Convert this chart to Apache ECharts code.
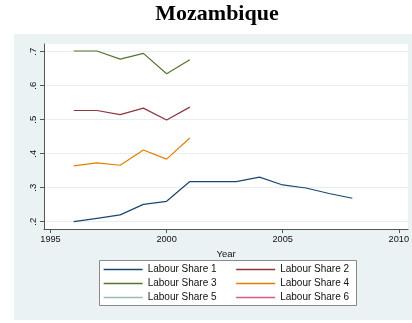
<!DOCTYPE html>
<html>
<head>
<meta charset="utf-8">
<style>
  html, body { margin: 0; padding: 0; background: #fff; }
  #chart { width: 412px; height: 323px; }
</style>
<script src="https://cdn.jsdelivr.net/npm/echarts@6/dist/echarts.min.js"></script>
</head>
<body>
<div id="chart"></div>
<script>
// Labour shares for Mozambique, by year
const years = [1996, 1997, 1998, 1999, 2000, 2001, 2002, 2003, 2004, 2005, 2006, 2007, 2008];
const share1 = [0.200, 0.210, 0.220, 0.251, 0.260, 0.318, 0.318, 0.318, 0.331, 0.308, 0.299, 0.283, 0.269];
const share2 = [0.527, 0.527, 0.515, 0.534, 0.499, 0.537, null, null, null, null, null, null, null];
const share3 = [0.702, 0.702, 0.678, 0.695, 0.635, 0.676, null, null, null, null, null, null, null];
const share4 = [0.364, 0.373, 0.366, 0.411, 0.384, 0.446, null, null, null, null, null, null, null];
const share5 = [];
const share6 = [];

const xTicks = [1995, 2000, 2005, 2010];
const yTicks = [0.2, 0.3, 0.4, 0.5, 0.6, 0.7];

const seriesNames = ['Labour Share 1', 'Labour Share 2', 'Labour Share 3',
                     'Labour Share 4', 'Labour Share 5', 'Labour Share 6'];
const seriesColors = ['#1a476f', '#90353b', '#55752f', '#e37e00', '#9dbab4', '#d85a7c'];
const seriesValues = [share1, share2, share3, share4, share5, share6];

const pairs = vals => vals.map((v, i) => [years[i], v]);

const chart = echarts.init(document.getElementById('chart'), null, { renderer: 'canvas' });

const axisColor = '#555';

const legendBase = {
  orient: 'vertical', top: 264.5, padding: 0, itemGap: 4,
  itemWidth: 39, itemHeight: 10, itemTextGap: 6,
  itemStyle: { opacity: 0 },
  lineStyle: { width: 1.3 },
  textStyle: { fontFamily: 'Liberation Sans', fontSize: 10, color: '#111' }
};

chart.setOption({
  animation: false,
  backgroundColor: '#ffffff',
  graphic: [
    // graph region
    { type: 'rect', z: -100, shape: { x: 14, y: 34, width: 400, height: 286 },
      style: { fill: '#eaf2f3' }, silent: true },
    // legend frame
    { type: 'rect', z: -50, shape: { x: 99.5, y: 260.5, width: 257, height: 45 },
      style: { fill: '#ffffff', stroke: '#8a8a8a', lineWidth: 1 }, silent: true }
  ],
  title: {
    text: 'Mozambique',
    left: 217,
    textAlign: 'center',
    top: 3,
    padding: 0,
    textStyle: { fontFamily: 'Liberation Serif', fontWeight: 'bold', fontSize: 22, color: '#000' }
  },
  grid: {
    left: 44, right: -2, top: 44, bottom: 94,
    show: true, backgroundColor: '#ffffff', borderWidth: 0
  },
  xAxis: {
    type: 'value',
    min: 1994.72, max: 2010.4,
    name: 'Year',
    nameLocation: 'middle',
    nameGap: 15,
    nameTextStyle: { fontFamily: 'Liberation Sans', fontSize: 9.5, color: '#111' },
    axisLine: { show: true, lineStyle: { color: axisColor, width: 1 } },
    axisTick: { show: true, length: 4, customValues: xTicks, lineStyle: { color: axisColor } },
    axisLabel: {
      customValues: xTicks, margin: 6,
      fontFamily: 'Liberation Sans', fontSize: 9.2, color: '#111',
      formatter: v => String(v)
    },
    splitLine: { show: false }
  },
  yAxis: {
    type: 'value',
    min: 0.1785, max: 0.7226,
    axisLine: { show: true, lineStyle: { color: axisColor, width: 1 } },
    axisTick: { show: true, length: 4, customValues: yTicks, lineStyle: { color: axisColor } },
    axisLabel: {
      customValues: yTicks, rotate: 90, margin: 6,
      fontFamily: 'Liberation Sans', fontSize: 9.5, color: '#111',
      formatter: v => v.toFixed(1).replace(/^0/, '')
    },
    splitLine: { show: true, lineStyle: { color: '#e6eef0', width: 1 } }
  },
  legend: [
    Object.assign({}, legendBase, {
      left: 103, data: [seriesNames[0], seriesNames[2], seriesNames[4]]
    }),
    Object.assign({}, legendBase, {
      left: 235.5, data: [seriesNames[1], seriesNames[3], seriesNames[5]]
    })
  ],
  series: seriesNames.map((name, k) => ({
    name: name,
    type: 'line',
    data: pairs(seriesValues[k]),
    symbol: 'none',
    color: seriesColors[k],
    lineStyle: { width: 1.2, color: seriesColors[k] },
    connectNulls: false
  }))
});
</script>
</body>
</html>
